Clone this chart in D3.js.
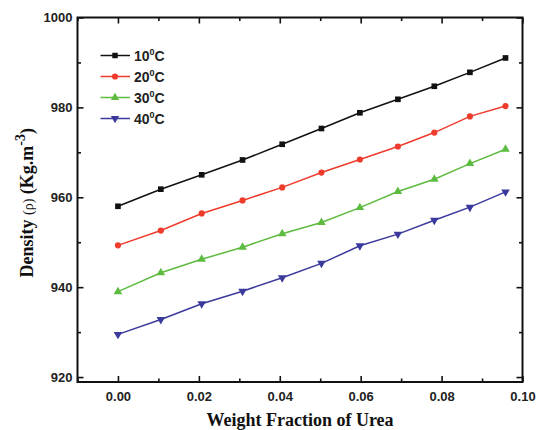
<!DOCTYPE html>
<html>
<head>
<meta charset="utf-8">
<script src="https://cdn.jsdelivr.net/npm/d3@7"></script>
<style>
  body { margin: 0; background: #fff; }
  .tick text { font-family: "Liberation Sans", Arial, sans-serif; font-weight: bold; font-size: 13px; fill: #222; }
</style>
</head>
<body>
<div id="chart"></div>
<script>
// Data
const weightFraction = [0.0, 0.0106, 0.0207, 0.0308, 0.0406, 0.0503, 0.0598, 0.0692, 0.0782, 0.0870, 0.0958];
const series = ["10", "20", "30", "40"];
const dens10 = [958.0, 961.8, 965.0, 968.3, 971.8, 975.3, 978.8, 981.8, 984.7, 987.8, 991.0];
const dens20 = [949.3, 952.6, 956.4, 959.3, 962.2, 965.5, 968.4, 971.3, 974.4, 978.0, 980.3];
const dens30 = [939.0, 943.2, 946.2, 948.9, 951.9, 954.4, 957.7, 961.3, 964.0, 967.5, 970.7];
const dens40 = [929.5, 932.8, 936.3, 939.1, 942.1, 945.3, 949.2, 951.8, 954.9, 957.8, 961.2];
const xTicks = [0.00, 0.02, 0.04, 0.06, 0.08, 0.10];
const yTicks = [920, 940, 960, 980, 1000];

const allDens = [dens10, dens20, dens30, dens40];
const colors = ["#111111", "#ef3b2c", "#5dbb3f", "#3b3a9c"];
const symbols = [d3.symbolSquare, d3.symbolCircle, d3.symbolTriangle, d3.symbolTriangle];

const width = 536, height = 430;
const mLeft = 77.5, mRight = 522.5, mTop = 17.5, mBottom = 382;

const svg = d3.select("#chart").append("svg")
    .attr("width", width)
    .attr("height", height);

let x = d3.scaleLinear().domain([-0.01, 0.10]).range([mLeft, mRight]);
let y = d3.scaleLinear().domain([918.9, 1000]).range([mBottom, mTop]);

// minor ticks
const xMinor = d3.range(-0.01, 0.1001, 0.01).filter(v => Math.abs(Math.round(v * 100) % 2) === 1);
const yMinor = d3.range(930, 1000, 20);

function axisGroup(axis, tx, ty) {
    const g = svg.append("g").attr("transform", "translate(" + tx + "," + ty + ")").call(axis);
    g.select(".domain").remove();
    g.selectAll(".tick line").attr("stroke", "#111").attr("stroke-width", 1.6);
    return g;
}

// bottom
axisGroup(d3.axisBottom(x).tickValues(xTicks).tickFormat(d3.format(".2f")).tickSizeInner(-6).tickPadding(10), 0, mBottom);
axisGroup(d3.axisBottom(x).tickValues(xMinor).tickFormat("").tickSizeInner(-3.5), 0, mBottom);
// top
axisGroup(d3.axisTop(x).tickValues(xTicks).tickFormat("").tickSizeInner(-6), 0, mTop);
axisGroup(d3.axisTop(x).tickValues(xMinor).tickFormat("").tickSizeInner(-3.5), 0, mTop);
// left
axisGroup(d3.axisLeft(y).tickValues(yTicks).tickFormat(d3.format("d")).tickSizeInner(-6).tickPadding(5), mLeft, 0);
axisGroup(d3.axisLeft(y).tickValues(yMinor).tickFormat("").tickSizeInner(-3.5), mLeft, 0);
// right
axisGroup(d3.axisRight(y).tickValues(yTicks).tickFormat("").tickSizeInner(-6), mRight, 0);
axisGroup(d3.axisRight(y).tickValues(yMinor).tickFormat("").tickSizeInner(-3.5), mRight, 0);

// frame
svg.append("rect")
    .attr("x", mLeft).attr("y", mTop)
    .attr("width", mRight - mLeft).attr("height", mBottom - mTop)
    .attr("fill", "none").attr("stroke", "#111").attr("stroke-width", 2);

// lines + markers
const line = d3.line()
    .x((d, i) => x(weightFraction[i]))
    .y(d => y(d));

allDens.forEach(function (dens, k) {
    svg.append("path")
        .datum(dens)
        .attr("d", line)
        .attr("fill", "none")
        .attr("stroke", colors[k])
        .attr("stroke-width", 1.5);

    svg.selectAll(".m" + k)
        .data(dens).enter()
        .append("path")
        .attr("class", "m" + k)
        .attr("d", d3.symbol().type(symbols[k]).size(k === 1 ? 30 : 32))
        .attr("fill", colors[k])
        .attr("transform", (d, i) => "translate(" + x(weightFraction[i]) + "," + y(d) + ")" + (k === 3 ? " rotate(180)" : ""));
});

// legend
const legend = svg.append("g");
series.forEach(function (s, k) {
    const ly = 55.5 + k * 21;
    legend.append("line")
        .attr("x1", 100.5).attr("x2", 130)
        .attr("y1", ly).attr("y2", ly)
        .attr("stroke", colors[k]).attr("stroke-width", 1.5);
    legend.append("path")
        .attr("d", d3.symbol().type(symbols[k]).size(30))
        .attr("fill", colors[k])
        .attr("transform", "translate(115," + ly + ")" + (k === 3 ? " rotate(180)" : ""));
    const t = legend.append("text")
        .attr("x", 134).attr("y", ly + 5)
        .style("font-family", "Liberation Sans, Arial, sans-serif")
        .style("font-weight", "bold")
        .style("font-size", "14px")
        .attr("fill", "#222");
    t.append("tspan").text(s);
    t.append("tspan").attr("dy", -6).style("font-size", "9px").text("0");
    t.append("tspan").attr("dy", 6).text("C");
});

// axis titles
svg.append("text")
    .attr("x", (mLeft + mRight) / 2)
    .attr("y", 426)
    .attr("text-anchor", "middle")
    .style("font-family", "Liberation Serif, Times New Roman, serif")
    .style("font-weight", "bold")
    .style("font-size", "18px")
    .attr("fill", "#111")
    .text("Weight Fraction of Urea");

const yt = svg.append("text")
    .attr("transform", "translate(33," + ((mTop + mBottom) / 2 + 3) + ") rotate(-90)")
    .attr("text-anchor", "middle")
    .style("font-family", "Liberation Serif, Times New Roman, serif")
    .style("font-weight", "bold")
    .style("font-size", "18px")
    .attr("fill", "#111");
yt.append("tspan").text("Density ");
yt.append("tspan").style("font-weight", "normal").style("font-size", "14px").text("(ρ)");
yt.append("tspan").text(" (Kg.m");
yt.append("tspan").attr("dy", -8).style("font-size", "14px").text("-3");
yt.append("tspan").attr("dy", 8).text(")");
</script>
</body>
</html>
